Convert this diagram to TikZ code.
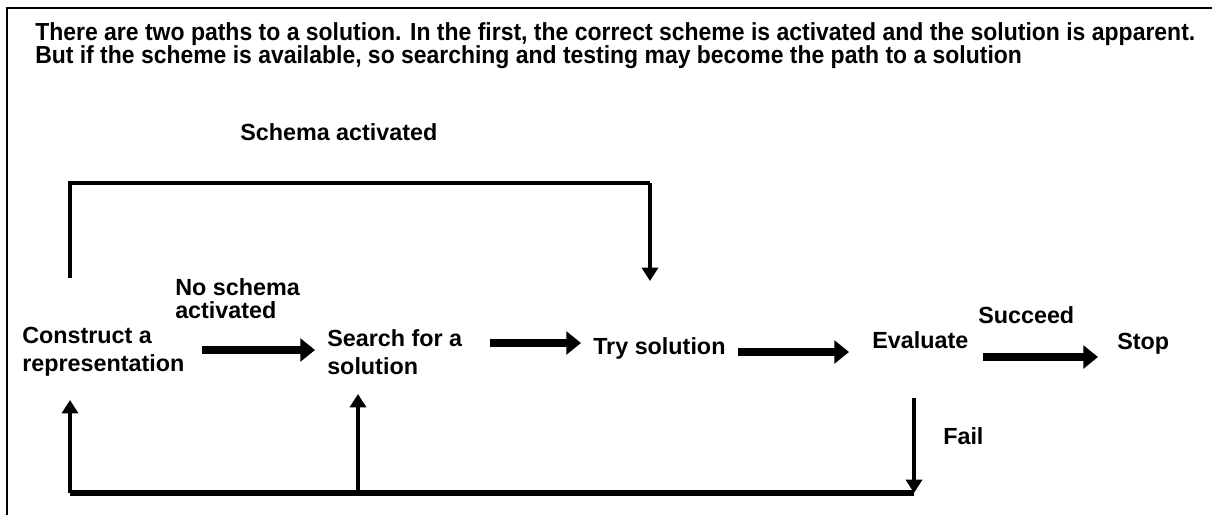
\documentclass[tikz,border=0pt]{standalone}
\usepackage{fontspec}
\setmainfont{Liberation Sans}
\usetikzlibrary{arrows.meta}
\begin{document}
\begin{tikzpicture}[x=0.75pt,y=-0.75pt,
  lbl/.style={font=\bfseries\fontsize{17.5}{21}\selectfont, inner sep=0pt, align=left, anchor=base west},
  ttl/.style={font=\bfseries\fontsize{18.5}{19}\selectfont, inner sep=0pt, anchor=base west},
  fat/.style={line width=6pt, -{Triangle[length=11pt,width=17pt]}},
  loopln/.style={line width=3.6pt},
  looparrow/.style={line width=3.4pt, -{Triangle[length=10pt,width=12pt]}}]
\useasboundingbox (0,0) rectangle (1212,515);
% frame
\draw[line width=1.5pt] (7,515) -- (7,8) -- (1212,8);

% heading
\node[ttl] (t1) at (35,40) {\resizebox{870pt}{\height}{There are two paths to a solution. In the first, the correct scheme is activated and the solution is apparent.}};
\node[ttl] (t2) at (35,63) {\resizebox{740pt}{\height}{But if the scheme is available, so searching and testing may become the path to a solution}};

% stages
\node[lbl] (construct) at (22,371) {Construct a\\representation};
\node[lbl] (search) at (327,374) {Search for a\\solution};
\node[lbl] (try) at (593,354) {Try solution};
\node[lbl] (evaluate) at (872,348) {Evaluate};
\node[lbl] (stop) at (1117,349) {Stop};

% branch labels
\node[lbl] (schact) at (240,140) {Schema activated};
\node[lbl, font=\bfseries\fontsize{17.5}{17}\selectfont] (noschema) at (175,318) {No schema\\activated};
\node[lbl] (succeed) at (978,323) {Succeed};
\node[lbl] (fail) at (943,444) {Fail};

% main line of stages
\draw[fat] (202,350) coordinate (a1s) -- (315,350) coordinate (a1e);
\draw[fat] (490,343) coordinate (a2s) -- (581,343) coordinate (a2e);
\draw[fat] (738,352) coordinate (a3s) -- (849,352) coordinate (a3e);
\draw[fat] (983,357) coordinate (a4s) -- (1098,357) coordinate (a4e);

% schema path above
\coordinate (topL) at (70,278);
\coordinate (topC) at (70,183);
\coordinate (topR) at (650,183);
\coordinate (tryIn) at (650,281);
\draw[loopln] (topL) -- (topC) -- (topR);
\draw[looparrow] (topR) -- (tryIn);

% feedback path below
\coordinate (failOut) at (914,398);
\coordinate (botR) at (914,493);
\coordinate (botM) at (358,493);
\coordinate (botL) at (70,493);
\coordinate (constructIn) at (70,400);
\coordinate (searchIn) at (358,394);
\draw[loopln, line width=4.2pt] (botR) -- (botL);
\draw[looparrow] (failOut) -- (botR);
\draw[looparrow] (botL) -- (constructIn);
\draw[looparrow] (botM) -- (searchIn);
\end{tikzpicture}
\end{document}
